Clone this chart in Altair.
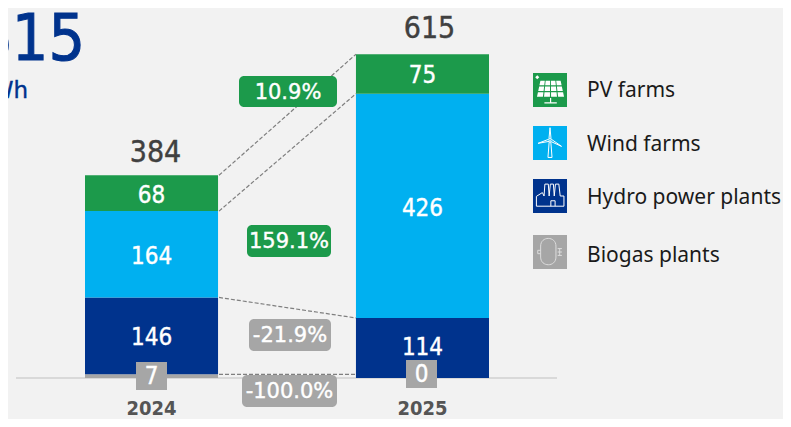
import altair as alt
import pandas as pd

years = ["2024", "2025"]
sources = ["Biogas plants", "Hydro power plants", "Wind farms", "PV farms"]
values_2024 = [7, 146, 164, 68]
values_2025 = [0, 114, 426, 75]
totals = [384, 615]
colors = ["#a6a6a6", "#00338d", "#00b0f0", "#1c9a4b"]
changes = ["10.9%", "159.1%", "-21.9%", "-100.0%"]
change_colors = ["#1c9a4b", "#1c9a4b", "#a6a6a6", "#a6a6a6"]
conn_start = [385, 317, 153, 7]
conn_end = [615, 540, 114, 7]
legend_order = ["PV farms", "Wind farms", "Hydro power plants", "Biogas plants"]
legend_colors = ["#1c9a4b", "#00b0f0", "#00338d", "#a6a6a6"]

NUM = "DejaVu Sans Condensed"
NUM2 = "DejaVu Sans"
TXT = "Noto Sans"
H = 370
W = 775


def px(v):  # page x to chart x
    return v - 8


def py(v):  # page y to chart y
    return v - 8


rows = []
for y, vals in zip(years, [values_2024, values_2025]):
    c = 0
    for s, v in zip(sources, vals):
        rows.append({"year": y, "source": s, "value": v, "y0": c, "y1": c + v, "mid": c + v / 2})
        c += v
df = pd.DataFrame(rows)

x_enc = alt.X(
    "year:N",
    scale=alt.Scale(domain=years, range=[px(85), px(489)], paddingInner=0.509, paddingOuter=0),
    axis=alt.Axis(
        title=None, domain=False, ticks=False, labelAngle=0, labelFontSize=20, labelFont=NUM,
        labelFontWeight="bold", labelColor="#555555", labelPadding=20, grid=False,
    ),
)
y_scale = alt.Scale(domain=[0, H / 0.5265], range=[H, 0], nice=False)

base_rule = alt.Chart(alt.Data(values=[{}])).mark_rule(color="#d9d9d9", strokeWidth=2).encode(
    x=alt.value(px(16)), x2=alt.value(px(557)), y=alt.value(H)
)

bars = alt.Chart(df[df.value > 0]).mark_bar(opacity=1).encode(
    x=x_enc,
    y=alt.Y("y0:Q", scale=y_scale, axis=None),
    y2="y1:Q",
    color=alt.Color("source:N", scale=alt.Scale(domain=sources, range=colors), legend=None),
)

conn = alt.Chart(pd.DataFrame({"a": conn_start, "b": conn_end})).mark_rule(
    color="#7f7f7f", strokeWidth=1.2, strokeDash=[4, 2]
).encode(
    x=alt.value(px(219)), x2=alt.value(px(356)),
    y=alt.Y("a:Q", scale=y_scale, axis=None), y2="b:Q",
)

# Value labels inside the segments
labels_df = df[df.source.isin(["Hydro power plants", "Wind farms", "PV farms"])].reset_index(drop=True)
label_dy = [2, 3, 2.5, 0, 3, 2.5]
seg_layers = []
for i, ddy in enumerate(label_dy):
    seg_layers.append(
        alt.Chart(labels_df.iloc[[i]]).mark_text(
            color="white", fontSize=24, font=NUM, baseline="middle", stroke="white", strokeWidth=0.4, dy=ddy
        ).encode(x=x_enc, y=alt.Y("mid:Q", scale=y_scale, axis=None), text="value:Q")
    )

# Biogas tags
tag_layers = []
for yr, v, (l, r, t, b) in zip(years, [values_2024[0], values_2025[0]],
                               [(136, 167, 362, 390), (406, 437, 360, 388)]):
    d = alt.Data(values=[{"year": yr, "value": v}])
    tag_layers.append(
        alt.Chart(d).mark_rect(color="#a6a6a6").encode(
            x=alt.value(px(l)), x2=alt.value(px(r)), y=alt.value(py(t)), y2=alt.value(py(b)))
    )
    tag_layers.append(
        alt.Chart(d).mark_text(color="white", fontSize=24, font=NUM, baseline="middle",
                               stroke="white", strokeWidth=0.4).encode(
            x=alt.value(px((l + r) / 2)), y=alt.value(py((t + b) / 2 + 1)), text="value:Q")
    )

# Totals
tot_layers = []
for yr, total, top, ddx, ddy in zip(years, totals, [385, 615], [4, 7], [-13, -16]):
    tot_layers.append(
        alt.Chart(alt.Data(values=[{"year": yr, "total": total, "top": top}])).mark_text(
            color="#404040", fontSize=30, font=NUM, baseline="alphabetic",
            stroke="#404040", strokeWidth=0.4, dx=ddx, dy=ddy
        ).encode(x=x_enc, y=alt.Y("top:Q", scale=y_scale, axis=None), text="total:Q")
    )

# Change badges
badges = []
boxes = [(239, 337, 76, 107), (247, 331, 225, 257), (249, 331, 319, 351), (242, 337, 375, 407)]
for lab, col, (l, r, t, b) in zip(changes, change_colors, boxes):
    d = alt.Data(values=[{"label": lab}])
    badges.append(
        alt.Chart(d).mark_rect(color=col, cornerRadius=5).encode(
            x=alt.value(px(l)), x2=alt.value(px(r)), y=alt.value(py(t)), y2=alt.value(py(b)))
    )
    badges.append(
        alt.Chart(d).mark_text(color="white", fontSize=21, font=NUM2, baseline="middle",
                               stroke="white", strokeWidth=0.4).encode(
            x=alt.value(px((l + r) / 2)), y=alt.value(py((t + b) / 2 + 1)), text="label:N")
    )

# Headline
head = [
    alt.Chart(alt.Data(values=[{"t": "615"}])).mark_text(
        color="#00338d", fontSize=64, font=NUM, align="right", baseline="alphabetic",
        stroke="#00338d", strokeWidth=1
    ).encode(x=alt.value(px(85)), y=alt.value(py(60)), text="t:N"),
    alt.Chart(alt.Data(values=[{"t": "GWh"}])).mark_text(
        color="#00338d", fontSize=23, font=NUM2, align="right", baseline="middle",
        stroke="#00338d", strokeWidth=0.4
    ).encode(x=alt.value(px(28)), y=alt.value(py(91)), text="t:N"),
]


# Legend icons (paths in the -1..1 symbol box)
def pv_path():
    p = []
    for r in range(3):
        t0, t1 = -0.55 + r * 0.34, -0.55 + r * 0.34 + 0.27
        for c in range(4):
            def xx(u, yy):
                k = 0.62 + (yy + 0.55) * 0.22
                return 0.03 + k * (-1 + u * 0.5)
            u0, u1 = c + 0.08, c + 0.92
            p.append(f"M{xx(u0, t0):.3f},{t0:.3f}L{xx(u1, t0):.3f},{t0:.3f}L{xx(u1, t1):.3f},{t1:.3f}L{xx(u0, t1):.3f},{t1:.3f}Z")
    p.append("M0,0.47L0.07,0.47L0.07,0.72L0.4,0.72L0.4,0.8L-0.33,0.8L-0.33,0.72L0,0.72Z")
    p.append("M-0.87,-0.75L-0.75,-0.87L-0.63,-0.75L-0.75,-0.63Z")
    return "".join(p)


WIND = ("M0,-0.9L0.06,-0.25L-0.06,-0.25Z M-0.7,0.02L-0.08,-0.22L-0.03,-0.1Z M0.68,0.2L0.08,-0.22L0.03,-0.1Z "
        "M-0.05,-0.05L-0.12,0.85L0.12,0.85L0.05,-0.05Z")
HYDRO = ("M-0.8,0.6L-0.8,0.02L-0.45,-0.2L-0.35,0L-0.3,-0.7L-0.1,-0.7L-0.05,0L0.02,-0.7L0.2,-0.7L0.25,0L0.32,-0.7L0.52,-0.7"
         "L0.6,0L0.82,0L0.82,0.6Z M0.05,0.6L0.05,0.28L0.3,0.28L0.3,0.6")
BIOGAS = ("M-0.55,-0.35C-0.55,-0.95 0.35,-0.95 0.35,-0.35L0.35,0.3C0.35,0.9 -0.55,0.9 -0.55,0.3Z "
          "M-0.55,-0.1L-0.72,-0.1L-0.72,0.1L-0.55,0.1 M0.45,-0.2L0.7,-0.2 M0.45,0L0.7,0 M0.45,0.2L0.7,0.2 M0.57,-0.2L0.57,0.2")
icons = [pv_path(), WIND, HYDRO, BIOGAS]
icon_filled = [True, False, False, False]
icon_stroke = ["#ffffff", "#ffffff", "#ffffff", "#dddddd"]
tops = [73, 126, 179, 235]
text_y = [91, 145, 198, 256]

legend_layers = []
for name, col, top, ty, ic, fl, st in zip(legend_order, legend_colors, tops, text_y, icons, icon_filled, icon_stroke):
    d = alt.Data(values=[{"name": name}])
    legend_layers.append(
        alt.Chart(d).mark_rect(color=col).encode(
            x=alt.value(px(533)), x2=alt.value(px(567)), y=alt.value(py(top)), y2=alt.value(py(top + 34)))
    )
    legend_layers.append(
        alt.Chart(d).mark_point(shape=ic, size=34 ** 2, filled=fl, opacity=1,
                                stroke=st, fill=st if fl else "transparent",
                                strokeWidth=0 if fl else 1).encode(
            x=alt.value(px(550)), y=alt.value(py(top + 17)))
    )
    legend_layers.append(
        alt.Chart(d).mark_text(color="#1a1a1a", fontSize=21, font=TXT, align="left", baseline="middle").encode(
            x=alt.value(px(587)), y=alt.value(py(ty)), text="name:N")
    )

chart = alt.layer(
    base_rule, bars, conn, *seg_layers, *tot_layers, *tag_layers, *badges, *head, *legend_layers
).properties(
    width=W, height=H, background="#f2f2f2",
    padding={"left": 0, "top": 0, "right": 0, "bottom": 41},
    autosize=alt.AutoSizeParams(type="none"),
).configure_view(stroke=None)

chart.save("out.html", embed_options={"renderer": "svg", "actions": False})
